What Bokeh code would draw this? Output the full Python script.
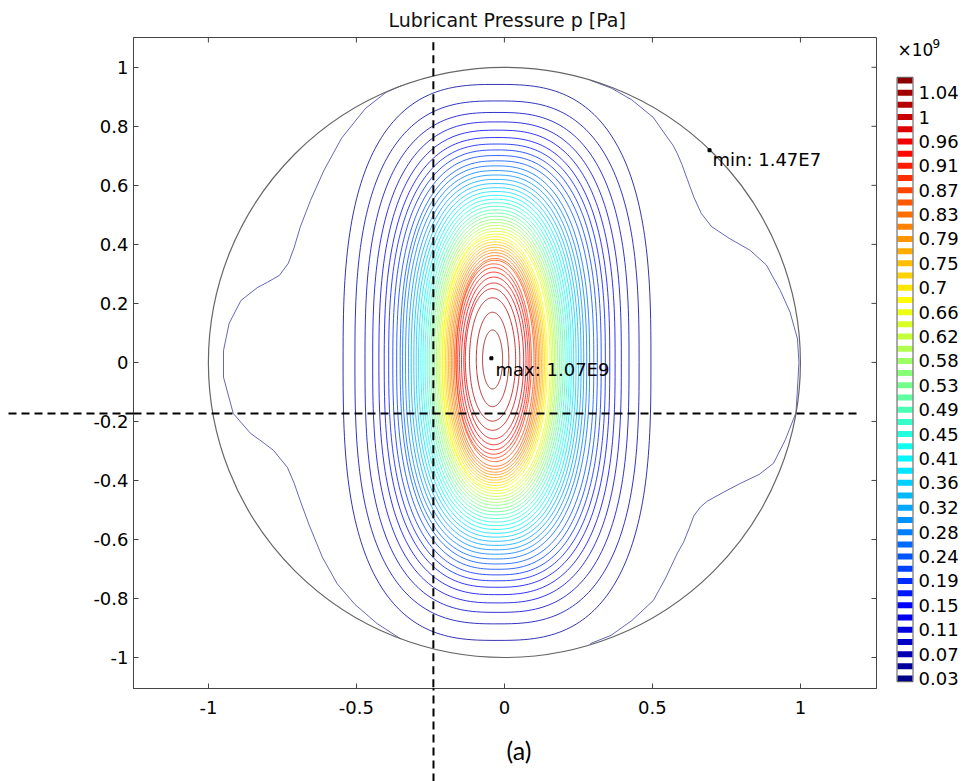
import numpy as np
from bokeh.plotting import figure
from bokeh.models import Range1d, FixedTicker, Title
from bokeh.layouts import row
from bokeh.embed import file_html
from bokeh.resources import INLINE
from bokeh.core.properties import value

# ---------------- data ----------------
TITLE = "Lubricant Pressure p [Pa]"
x_ticks = [-1, -0.5, 0, 0.5, 1]
x_tick_labels = ["-1", "-0.5", "0", "0.5", "1"]
y_ticks = [-1, -0.8, -0.6, -0.4, -0.2, 0, 0.2, 0.4, 0.6, 0.8, 1]
y_tick_labels = ["-1", "-0.8", "-0.6", "-0.4", "-0.2", "0", "0.2", "0.4", "0.6", "0.8", "1"]

p_min = 0.0147   # x1e9 Pa
p_max = 1.07
max_point = (-0.044, 0.014)
min_point = (0.693, 0.719)
max_text = "max: 1.07E9"
min_text = "min: 1.47E7"
domain_radius = 1.0
cut_x = -0.24
cut_y = -0.173
panel_tag = "(a)"

# contour levels (x1e9 Pa), bottom to top of colour legend
levels = [0.025, 0.046, 0.067, 0.088, 0.109, 0.130, 0.151, 0.172, 0.193, 0.214,
          0.235, 0.256, 0.277, 0.298, 0.319, 0.340, 0.362, 0.383, 0.404, 0.425,
          0.446, 0.467, 0.488, 0.509, 0.530, 0.551, 0.572, 0.593, 0.614, 0.635,
          0.656, 0.677, 0.698, 0.719, 0.740, 0.761, 0.782, 0.803, 0.824, 0.845,
          0.866, 0.887, 0.908, 0.929, 0.950, 0.971, 0.992, 1.013, 1.034, 1.055]
cbar_labels = ["0.03", "0.07", "0.11", "0.15", "0.19", "0.24", "0.28", "0.32", "0.36",
               "0.41", "0.45", "0.49", "0.53", "0.58", "0.62", "0.66", "0.7", "0.75",
               "0.79", "0.83", "0.87", "0.91", "0.96", "1", "1.04"]

# closed contours (levels[1:])
half_width = [0.520, 0.480, 0.446, 0.420, 0.399, 0.381, 0.366, 0.352, 0.339, 0.327,
              0.316, 0.306, 0.296, 0.287, 0.278, 0.270, 0.262, 0.254, 0.247, 0.240,
              0.233, 0.226, 0.220, 0.214, 0.208, 0.202, 0.197, 0.192, 0.187, 0.182,
              0.177, 0.172, 0.167, 0.162, 0.157, 0.152, 0.147, 0.142, 0.137, 0.132,
              0.127, 0.122, 0.116, 0.109, 0.101, 0.092, 0.078, 0.055, 0.034]
half_height = [0.942, 0.886, 0.847, 0.815, 0.787, 0.762, 0.740, 0.720, 0.701, 0.683,
               0.666, 0.650, 0.635, 0.620, 0.606, 0.592, 0.579, 0.566, 0.553, 0.541,
               0.529, 0.517, 0.506, 0.495, 0.484, 0.474, 0.464, 0.454, 0.444, 0.435,
               0.426, 0.417, 0.408, 0.399, 0.390, 0.381, 0.372, 0.362, 0.352, 0.341,
               0.329, 0.316, 0.301, 0.284, 0.264, 0.240, 0.209, 0.160, 0.100]
center_x = [-0.025] * 10 + [-0.028] * 20 + [-0.032] * 10 + [-0.036] * 5 + [-0.040] * 4
center_y = [0.0] * 39 + [0.005] * 6 + [0.010] * 4
shape_exponent = [2.80, 2.76, 2.72, 2.68, 2.65, 2.62, 2.59, 2.56, 2.53, 2.50,
                  2.48, 2.46, 2.44, 2.42, 2.40, 2.38, 2.36, 2.34, 2.32, 2.30,
                  2.29, 2.28, 2.27, 2.26, 2.25, 2.24, 2.23, 2.22, 2.21, 2.20,
                  2.19, 2.18, 2.17, 2.16, 2.15, 2.14, 2.13, 2.12, 2.11, 2.10,
                  2.09, 2.08, 2.07, 2.06, 2.05, 2.04, 2.03, 2.02, 2.00]

# lowest level contour (levels[0])
outer_right_x = [0.29, 0.36, 0.43, 0.503, 0.545, 0.570, 0.584, 0.600, 0.618, 0.640, 0.665,
                 0.700, 0.760, 0.830, 0.885, 0.932, 0.965, 0.990, 0.995, 0.990, 0.985,
                 0.950, 0.909, 0.860, 0.797, 0.740, 0.686, 0.662, 0.640, 0.625, 0.605,
                 0.584, 0.545, 0.503, 0.43, 0.36, 0.29]
outer_right_y = [0.956, 0.93, 0.89, 0.83, 0.77, 0.735, 0.708, 0.670, 0.620, 0.560, 0.505,
                 0.460, 0.420, 0.380, 0.330, 0.244, 0.170, 0.080, 0.0, -0.09, -0.17,
                 -0.26, -0.342, -0.38, -0.41, -0.44, -0.47, -0.49, -0.52, -0.56, -0.61,
                 -0.647, -0.73, -0.807, -0.875, -0.925, -0.953]
outer_left_x = [-0.35, -0.40, -0.47, -0.55, -0.61, -0.655, -0.69, -0.71, -0.73, -0.76, -0.80,
                -0.834, -0.89, -0.93, -0.949, -0.949, -0.916, -0.858, -0.81, -0.78, -0.733,
                -0.71, -0.69, -0.66, -0.615, -0.565, -0.505, -0.43, -0.35]
outer_left_y = [0.937, 0.915, 0.86, 0.76, 0.65, 0.549, 0.458, 0.39, 0.336, 0.295, 0.272,
                0.254, 0.21, 0.132, 0.04, -0.05, -0.173, -0.24, -0.275, -0.298, -0.356,
                -0.41, -0.468, -0.55, -0.66, -0.75, -0.82, -0.885, -0.937]


# ---------------- helpers ----------------
def jet(t):
    t = min(max(t, 0.0), 1.0)
    r = min(max(1.5 - abs(4 * t - 3), 0), 1)
    g = min(max(1.5 - abs(4 * t - 2), 0), 1)
    b = min(max(1.5 - abs(4 * t - 1), 0), 1)
    return "#%02x%02x%02x" % (int(r * 255), int(g * 255), int(b * 255))


def level_color(L):
    return jet((L - p_min) / (p_max - p_min))


def superellipse(xc, yc, a, b, n, m=260):
    t = np.linspace(0, 2 * np.pi, m)
    c, s = np.cos(t), np.sin(t)
    x = xc + a * np.sign(c) * np.abs(c) ** (2.0 / n)
    y = yc + b * np.sign(s) * np.abs(s) ** (2.0 / n)
    return list(x), list(y)


FONT = "DejaVu Sans"
AX = "#444444"
X0, X1 = -1.253, 1.257
Y0, Y1 = -1.105, 1.101

# ---------------- main figure ----------------
p = figure(width=886, height=781,
           x_range=Range1d(X0, X1), y_range=Range1d(Y0, Y1),
           output_backend="svg", toolbar_location=None,
           min_border_left=133, min_border_right=10, min_border_top=37, min_border_bottom=93,
           outline_line_color=AX)
p.xgrid.visible = False
p.ygrid.visible = False

p.title.text = TITLE
p.title.text_font = FONT
p.title.text_font_size = "19px"
p.title.text_font_style = "normal"
p.title.text_color = "#111111"
p.title.align = "left"
p.title.offset = 255
p.title.standoff = 13

DASH = "8 5"


def style_axis(ax, ticks, labels, cut, cut_len, standoff):
    ax.ticker = FixedTicker(ticks=ticks, minor_ticks=[cut])
    ax.major_tick_in = 5
    ax.major_tick_out = 0
    ax.axis_line_color = AX
    ax.major_tick_line_color = AX
    # the dashed section line continues outside the frame as a minor tick
    ax.minor_tick_in = 0
    ax.minor_tick_out = cut_len
    ax.minor_tick_line_color = "black"
    ax.minor_tick_line_width = 2
    ax.minor_tick_line_dash = DASH
    # labels sit next to the axis line, not beyond the long minor tick
    ax.major_label_standoff = standoff - cut_len
    ax.major_label_overrides = {t: s for t, s in zip(ticks, labels)}
    ax.major_label_text_font = FONT
    ax.major_label_text_font_size = "18px"
    ax.major_label_text_color = "black"


style_axis(p.below[0], x_ticks, x_tick_labels, cut_x, 93, 12)
style_axis(p.left[0], y_ticks, y_tick_labels, cut_y, 125, 5)

# mirrored inward ticks on top and right edges
p.ray(x=x_ticks, y=[Y1] * len(x_ticks), length=5, length_units="screen",
      angle=-np.pi / 2, line_color=AX, line_width=1)
p.ray(x=[X1] * len(y_ticks), y=y_ticks, length=5, length_units="screen",
      angle=np.pi, line_color=AX, line_width=1)

# closed contours
xs, ys, cols = [], [], []
for i in range(len(half_width)):
    x, y = superellipse(center_x[i], center_y[i], half_width[i], half_height[i], shape_exponent[i])
    xs.append(x)
    ys.append(y)
    cols.append(level_color(levels[i + 1]))
p.multi_line(xs=xs, ys=ys, line_color=cols, line_width=1, line_alpha=0.8)

# lowest level (open, wavy) contour
c0 = level_color(levels[0])
p.multi_line(xs=[outer_left_x, outer_right_x], ys=[outer_left_y, outer_right_y],
             line_color=c0, line_width=1, line_alpha=0.6)

# domain boundary
p.ellipse(x=[0], y=[0], width=[2 * domain_radius], height=[2 * domain_radius],
          fill_color=None, line_color="#666666", line_width=1.2)

# min / max markers
p.scatter(x=[max_point[0], min_point[0]], y=[max_point[1], min_point[1]],
          marker="square", size=3, color="black")
p.text(x=[max_point[0] + 0.014, min_point[0] + 0.01], y=[max_point[1] - 0.038, min_point[1] - 0.03],
       text=[max_text, min_text], text_font=value(FONT), text_font_size="18px",
       text_baseline="middle", text_align="left", text_color="black")

# dashed section lines inside the frame
p.segment(x0=[X0, cut_x], y0=[cut_y, 1.085], x1=[1.196, cut_x], y1=[cut_y, Y0],
          line_color="black", line_width=2, line_dash=DASH)

# panel tag below the axis
p.add_layout(Title(text=panel_tag, text_font="Lato", text_font_size="25px",
                   text_font_style="normal", text_color="black",
                   align="left", offset=373, standoff=32), "below")

# ---------------- colour legend ----------------
# frame is aligned with the main frame (page y 37..688)
cb = figure(width=81, height=781, x_range=Range1d(0, 81), y_range=Range1d(0.0078, 1.129),
            output_backend="svg", toolbar_location=None, min_border=0,
            x_axis_type=None, y_axis_type=None, outline_line_color=None)
cb.grid.visible = False
bar_cols = [level_color(L) for L in levels]
cb.rect(x=[18.5] * len(levels), y=levels, width=15, height=6, height_units="screen",
        fill_color=bar_cols, line_color=None)
cb.rect(x=[18.5], y=[(levels[0] + levels[-1]) / 2], width=16,
        height=[levels[-1] - levels[0] + 0.011], fill_color=None, line_color="#555555", line_width=1)
cb.text(x=[32] * len(cbar_labels), y=levels[::2], text=cbar_labels, text_font=value(FONT),
        text_font_size="18px", text_baseline="middle", text_align="left", text_color="black")
cb.text(x=[11], y=[1.107], text=["×10"], text_font=value(FONT), text_font_size="17px",
        text_baseline="middle", text_align="left", text_color="black")
cb.text(x=[46], y=[1.119], text=["9"], text_font=value(FONT), text_font_size="12px",
        text_baseline="middle", text_align="left", text_color="black")

layout = row(p, cb)
open("out.html", "w").write(file_html(layout, INLINE))
